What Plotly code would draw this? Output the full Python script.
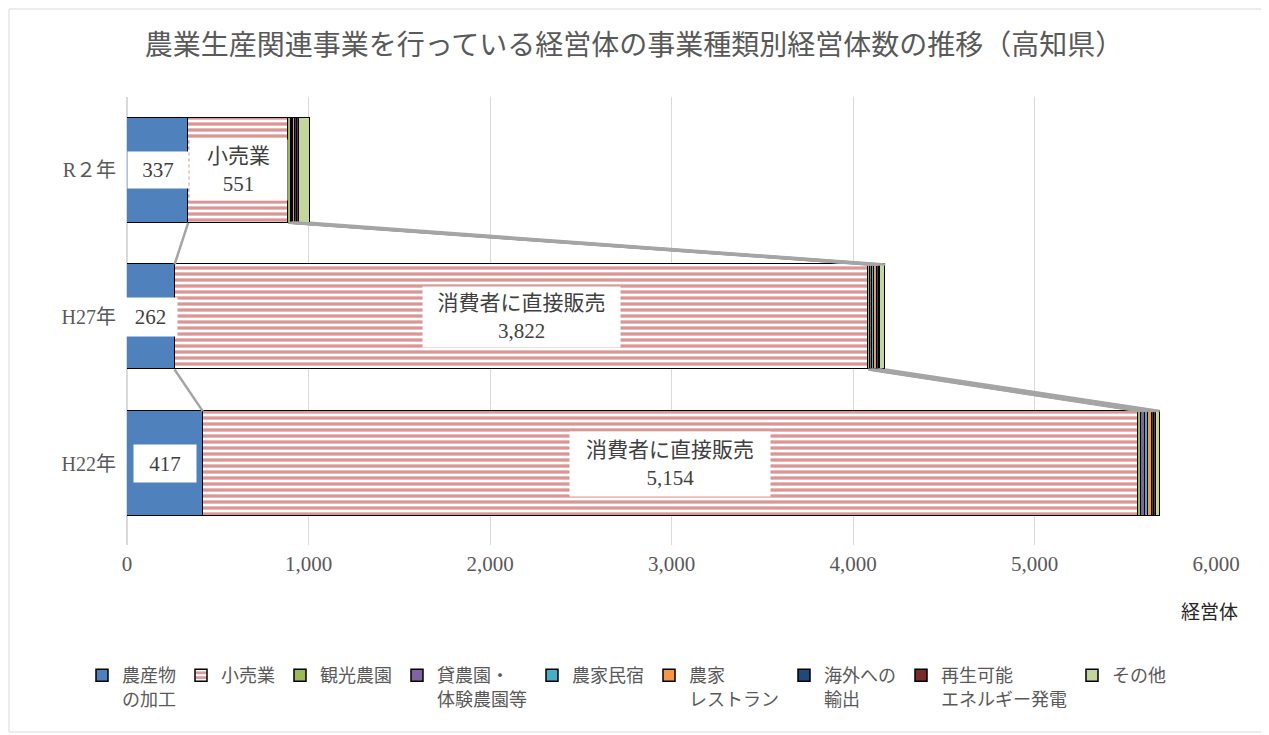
import plotly.graph_objects as go

# ---- data ----
categories = ["H22年", "H27年", "R２年"]
series_names = ["農産物<br>の加工", "小売業", "観光農園", "貸農園・<br>体験農園等", "農家民宿",
                "農家<br>レストラン", "海外への<br>輸出", "再生可能<br>エネルギー発電", "その他"]
processing = [417, 262, 337]
retail = [5154, 3822, 551]
tourist_farm = [15, 12, 16]
rental_farm = [25, 8, 5]
farm_inn = [12, 12, 6]
farm_restaurant = [25, 18, 10]
export = [12, 8, 9]
renewable = [10, 6, 12]
other = [20, 30, 62]
retail_label = ["消費者に直接販売", "消費者に直接販売", "小売業"]
x_tick_values = [0, 1000, 2000, 3000, 4000, 5000, 6000]

series_values = [processing, retail, tourist_farm, rental_farm, farm_inn,
                 farm_restaurant, export, renewable, other]
colors = ["#4F81BD", "#D99694", "#9BBB59", "#8064A2", "#4BACC6",
          "#F79646", "#1F497D", "#772C2A", "#C3D69B"]

FONT = "Liberation Serif, 'Noto Sans CJK JP', serif"
GRAY = "#595959"
W = 0.716
ypos = list(range(len(categories)))

# page body has an 8px margin; plot area should land at page x 127..1216, y 97..545
OFF = 8
ML, MR, MT, MB = 127 - OFF, 1269 + OFF - 1216, 97 - OFF, 735 + OFF - 545
PW, PH = 1269 - ML - MR, 735 - MT - MB

fig = go.Figure()

# series lines between bar edges at every cumulative boundary
run = [0] * len(categories)
cum = []
for vals in series_values:
    run = [r + v for r, v in zip(run, vals)]
    cum.append(list(run))
for c in cum:
    for i in range(len(categories) - 1, 0, -1):
        fig.add_trace(go.Scatter(
            x=[c[i], c[i - 1]], y=[ypos[i] - W / 2, ypos[i - 1] + W / 2],
            mode="lines", line=dict(color="#A5A5A5", width=2.5),
            showlegend=False, hoverinfo="skip"))

for idx, (name, vals, col) in enumerate(zip(series_names, series_values, colors)):
    marker = dict(color=col, line=dict(color="black", width=1.5))
    if idx == 1:
        marker = dict(color="white", line=dict(color="black", width=1.5),
                      pattern=dict(shape="-", fgcolor=col, bgcolor="white", fgopacity=1,
                                   size=6, solidity=0.55, fillmode="overlay"))
    fig.add_trace(go.Bar(x=vals, y=ypos, orientation="h", name=name,
                         marker=marker, width=W))

# data labels
box_sizes = {0: [(60, 35), (51, 36), (58, 34)], 1: [(198, 62), (195, 58), (95, 58)]}
for i in range(len(categories)):
    start = 0
    for idx in (0, 1):
        v = series_values[idx][i]
        mid = start + v / 2
        start += v
        txt = f"{v:,}" if idx == 0 else f"{retail_label[i]}<br>{v:,}"
        bw, bh = box_sizes[idx][i]
        fig.add_annotation(x=mid, y=ypos[i], text=txt, showarrow=False,
                           bgcolor="white", width=bw, height=bh,
                           font=dict(family=FONT, size=21, color="#404040"))

fig.add_annotation(xref="paper", yref="paper", x=(1240 - 127) / PW, y=(545 - 600) / PH,
                   text="経営体", showarrow=False, xanchor="right", yanchor="top",
                   font=dict(family=FONT, size=19, color="#262626"))

fig.add_shape(type="rect", xref="paper", yref="paper",
              x0=(OFF + 1 - 127) / PW, x1=(1266 - 127) / PW,
              y0=(545 - 732) / PH, y1=(545 - OFF - 1) / PH,
              line=dict(color="#D9D9D9", width=1), fillcolor="rgba(0,0,0,0)")

fig.update_layout(
    width=1269, height=735,
    margin=dict(l=ML, r=MR, t=MT, b=MB, autoexpand=False),
    barmode="stack",
    paper_bgcolor="white", plot_bgcolor="white",
    title=dict(text="農業生産関連事業を行っている経営体の事業種類別経営体数の推移（高知県）",
               x=(634 - OFF) / 1269, xanchor="center", y=1 - (45 - OFF) / 735, yanchor="middle",
               font=dict(family=FONT, size=28, color=GRAY)),
    font=dict(family=FONT, color=GRAY),
    legend=dict(orientation="h", x=(82 - 127) / PW, y=(545 - 657) / PH,
                xanchor="left", yanchor="top", valign="top",
                font=dict(family=FONT, size=18, color=GRAY), traceorder="normal",
                itemclick=False),
    xaxis=dict(range=[0, 6000], tickvals=x_tick_values, tickformat=",",
               showgrid=True, gridcolor="#D9D9D9", gridwidth=1,
               zeroline=True, zerolinecolor="#D9D9D9", showline=False,
               automargin=False, ticklabelstandoff=4,
               tickfont=dict(family=FONT, size=21, color=GRAY)),
    yaxis=dict(range=[-0.555, 2.5], tickvals=ypos, ticktext=categories,
               showgrid=False, zeroline=False, showline=False,
               ticklabelstandoff=10, automargin=False,
               tickfont=dict(family=FONT, size=20, color=GRAY)),
    bargap=0,
)

fig.write_html("out.html")
